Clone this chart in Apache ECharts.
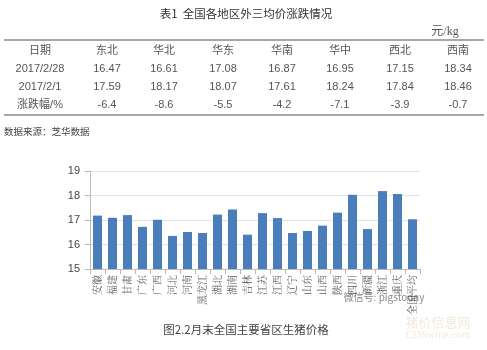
<!DOCTYPE html>
<html><head><meta charset="utf-8">
<script src="https://cdn.jsdelivr.net/npm/echarts@6/dist/echarts.min.js"></script>
<style>html,body{margin:0;padding:0;background:#fff}#c{width:487px;height:350px}</style>
</head><body><div id="c"></div>
<script>
// Table data
const tableTitle = '表1  全国各地区外三均价涨跌情况';
const tableUnit = '元/kg';
const tableHeader = '日期';
const tableRegions = ['东北','华北','华东','华南','华中','西北','西南'];
const rowLabels = ['2017/2/28','2017/2/1','涨跌幅/%'];
const price0228 = [16.47,16.61,17.08,16.87,16.95,17.15,18.34];
const price0201 = [17.59,18.17,18.07,17.61,18.24,17.84,18.46];
const changePct = [-6.4,-8.6,-5.5,-4.2,-7.1,-3.9,-0.7];
const sourceNote = '数据来源：芝华数据';

// Bar chart data
const provinces = ['安徽','福建','甘肃','广东','广西','河北','河南','黑龙江','湖北','湖南','吉林','江苏','江西','辽宁','山东','山西','陕西','四川','新疆','浙江','重庆','全国平均'];
const provincePrices = [17.18,17.09,17.2,16.72,17.01,16.35,16.51,16.47,17.22,17.43,16.4,17.28,17.08,16.47,16.55,16.77,17.3,18.03,16.63,18.18,18.06,17.03];
const yTicks = [15,16,17,18,19];
const chartCaption = '图2.2月末全国主要省区生猪价格';

const colX = [40,107,164,223,282,340,400,458];
const rowY = [50,69,87,105];
const txtColor = '#555';
const NUMF = 'Arial, "Liberation Sans", sans-serif';
const CJKF = '"Noto Sans CJK SC", sans-serif';
const g = [];
function t(x,y,s,size,color,align,font){
  g.push({type:'text',x:x,y:y,silent:true,style:{text:s,fill:color||txtColor,font:(size||11)+'px '+(font||NUMF),textAlign:align||'center',textVerticalAlign:'middle'}});
}
t(246,14,tableTitle,11.5,'#333','center',CJKF);
t(445,32,tableUnit,12,'#555','center','"Liberation Serif","Noto Sans CJK SC", serif');
g.push({type:'line',silent:true,shape:{x1:4,y1:40,x2:484,y2:40},style:{stroke:'#8a8a8a',lineWidth:1.5}});
g.push({type:'line',silent:true,shape:{x1:4,y1:115,x2:484,y2:115},style:{stroke:'#8a8a8a',lineWidth:1.5}});
t(colX[0],rowY[0],tableHeader,11,txtColor,'center',CJKF);
tableRegions.forEach((r,i)=>t(colX[i+1],rowY[0],r,11,txtColor,'center',CJKF));
t(colX[0],rowY[1],rowLabels[0],11);
t(colX[0],rowY[2],rowLabels[1],11);
t(colX[0],rowY[3],rowLabels[2],11,txtColor,'center','Arial, "Noto Sans CJK SC", sans-serif');
price0228.forEach((v,i)=>t(colX[i+1],rowY[1],v.toFixed(2),11));
price0201.forEach((v,i)=>t(colX[i+1],rowY[2],v.toFixed(2),11));
changePct.forEach((v,i)=>t(colX[i+1],rowY[3],v.toFixed(1),11));
t(4,131,sourceNote,9.5,'#444','left',CJKF);
t(246,330,chartCaption,11.5,'#444','center',CJKF);
t(384,297,'微信号: pigstoday',10,'#888','center',CJKF);
t(438,322,'猪价信息网',13,'#f3ead8','center',CJKF);
t(438,335,'CDSwine.com',11,'#f3ead8','center','"Liberation Serif", serif');

const chart = echarts.init(document.getElementById('c'),null,{renderer:'canvas'});
chart.setOption({
  animation:false,
  backgroundColor:'#fff',
  grid:{left:90,right:67,top:171,bottom:81},
  xAxis:{type:'category',data:provinces,
    axisLine:{lineStyle:{color:'#bbb'}},
    axisTick:{show:true,alignWithLabel:false,lineStyle:{color:'#bbb'}},
    axisLabel:{rotate:90,interval:0,fontSize:10,color:'#555',margin:6,fontFamily:'"Noto Serif CJK SC","Noto Sans CJK SC", serif'}},
  yAxis:{type:'value',min:15,max:19,interval:1,
    axisLine:{show:true,lineStyle:{color:'#bbb'}},
    axisTick:{show:true,lineStyle:{color:'#bbb'}},
    splitLine:{lineStyle:{color:'#e3e3e3'}},
    axisLabel:{color:'#444',fontSize:11,margin:10,fontFamily:'Arial, sans-serif',
      formatter:v=>yTicks.includes(v)?String(v):''}},
  series:[{type:'bar',data:provincePrices,barWidth:9,itemStyle:{color:'#4a7ebb'}}],
  graphic:g
});
</script></body></html>
